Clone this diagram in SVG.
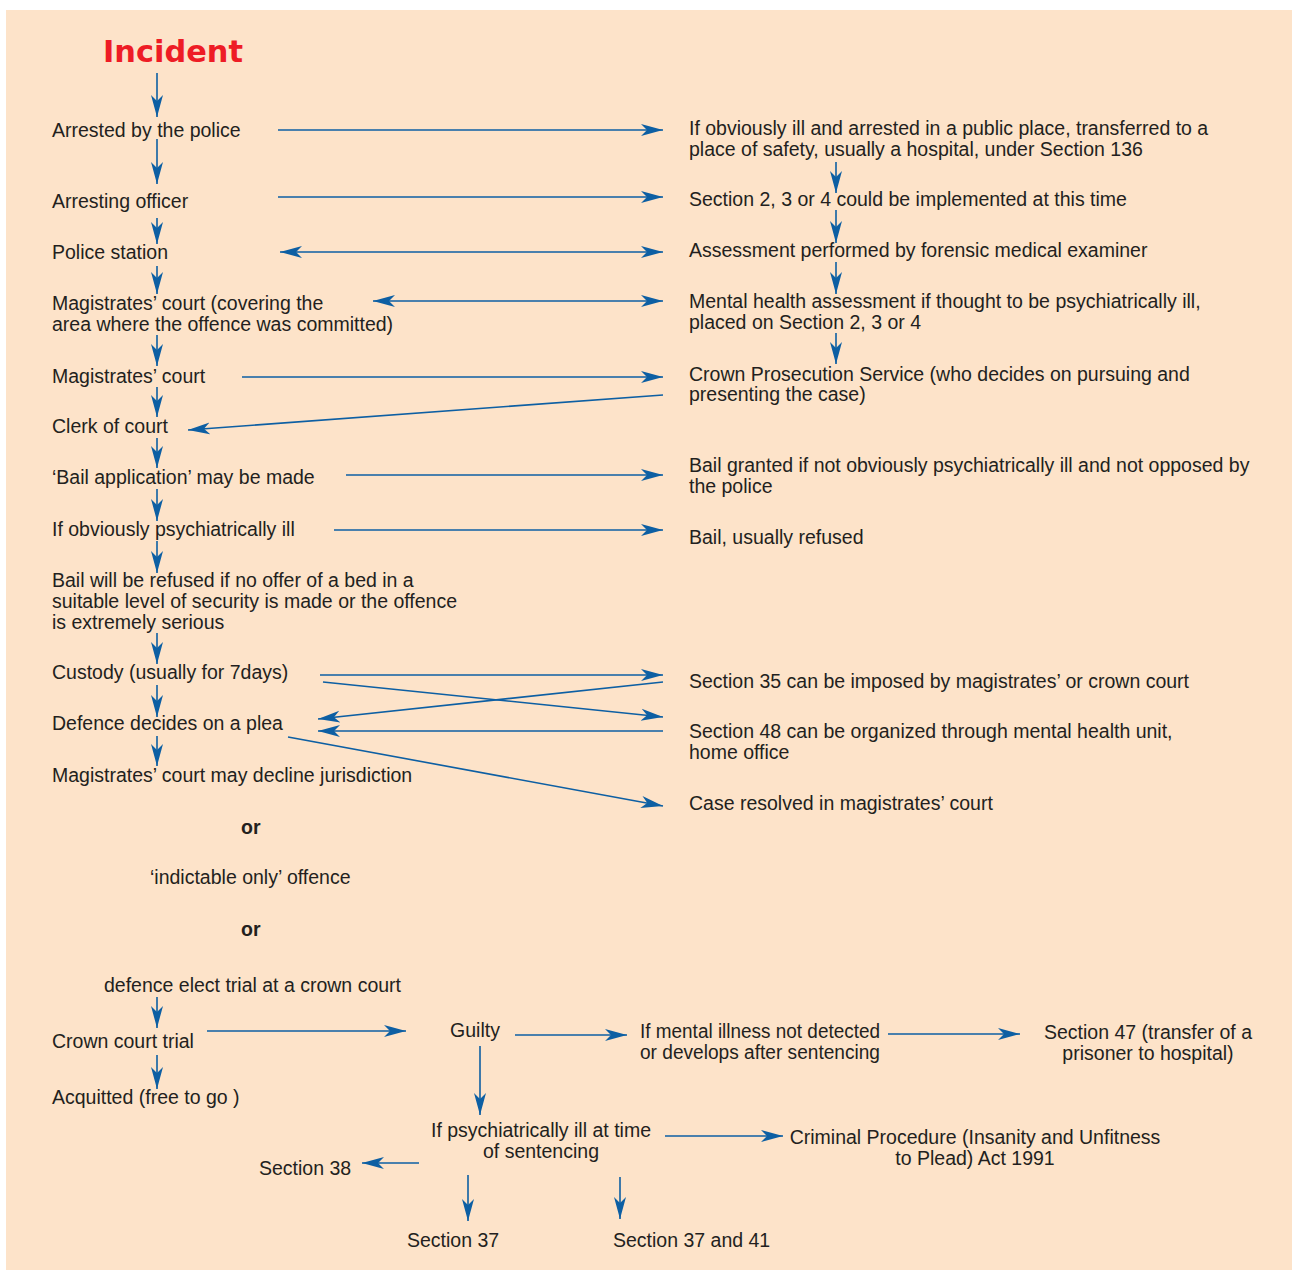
<svg xmlns="http://www.w3.org/2000/svg" width="1292" height="1270" viewBox="0 0 1292 1270">
<style>
.t{font-family:"Liberation Sans",Arial,sans-serif;font-size:19.5px;fill:#231F20}
.b{font-weight:bold}
.c{text-anchor:middle}
.ln{stroke:#0D5FA3;stroke-width:1.6;fill:none}
.a{marker-end:url(#ah)}
.d{marker-start:url(#ah);marker-end:url(#ah)}
</style>
<defs>
<marker id="ah" markerUnits="userSpaceOnUse" markerWidth="24" markerHeight="14" refX="22" refY="7" orient="auto-start-reverse" viewBox="0 0 24 14">
<path d="M0,1 L22,7 L0,13 L6,7 Z" fill="#0D5FA3"/>
</marker>
</defs>
<rect x="6" y="10" width="1286" height="1260" fill="#FDE3C9"/>
<g id="connectors">
<line class="ln a" x1="157" y1="73" x2="157" y2="117"/>
<line class="ln a" x1="157" y1="139" x2="157" y2="184"/>
<line class="ln a" x1="157" y1="218" x2="157" y2="244"/>
<line class="ln a" x1="157" y1="266" x2="157" y2="294"/>
<line class="ln a" x1="157" y1="335" x2="157" y2="366"/>
<line class="ln a" x1="157" y1="387" x2="157" y2="417"/>
<line class="ln a" x1="157" y1="438" x2="157" y2="468"/>
<line class="ln a" x1="157" y1="489" x2="157" y2="521"/>
<line class="ln a" x1="157" y1="541" x2="157" y2="573"/>
<line class="ln a" x1="157" y1="633" x2="157" y2="664"/>
<line class="ln a" x1="157" y1="685" x2="157" y2="717"/>
<line class="ln a" x1="157" y1="736" x2="157" y2="766"/>
<line class="ln a" x1="836" y1="162" x2="836" y2="193"/>
<line class="ln a" x1="836" y1="210" x2="836" y2="243"/>
<line class="ln a" x1="836" y1="262" x2="836" y2="294"/>
<line class="ln a" x1="836" y1="333" x2="836" y2="364"/>
<line class="ln a" x1="278" y1="130" x2="663" y2="130"/>
<line class="ln a" x1="278" y1="197" x2="663" y2="197"/>
<line class="ln d" x1="280" y1="252" x2="663" y2="252"/>
<line class="ln d" x1="373" y1="301" x2="663" y2="301"/>
<line class="ln a" x1="242" y1="377" x2="663" y2="377"/>
<line class="ln a" x1="663" y1="395" x2="188" y2="430"/>
<line class="ln a" x1="346" y1="475" x2="663" y2="475"/>
<line class="ln a" x1="334" y1="530" x2="663" y2="530"/>
<line class="ln a" x1="320" y1="675" x2="663" y2="675"/>
<line class="ln a" x1="323" y1="682" x2="663" y2="717"/>
<line class="ln a" x1="663" y1="682" x2="318" y2="719"/>
<line class="ln a" x1="663" y1="731" x2="318" y2="731"/>
<line class="ln a" x1="288" y1="737" x2="663" y2="806"/>
<line class="ln a" x1="157" y1="997" x2="157" y2="1028"/>
<line class="ln a" x1="157" y1="1055" x2="157" y2="1089"/>
<line class="ln a" x1="207" y1="1031" x2="406" y2="1031"/>
<line class="ln a" x1="515" y1="1035" x2="627" y2="1035"/>
<line class="ln a" x1="888" y1="1034" x2="1020" y2="1034"/>
<line class="ln a" x1="480" y1="1046" x2="480" y2="1115"/>
<line class="ln a" x1="665" y1="1136" x2="783" y2="1136"/>
<line class="ln a" x1="419" y1="1163" x2="362" y2="1163"/>
<line class="ln a" x1="468" y1="1175" x2="468" y2="1221"/>
<line class="ln a" x1="620" y1="1177" x2="620" y2="1219"/>
</g>
<g id="incident"><text x="103" y="62" textLength="140" lengthAdjust="spacingAndGlyphs" style="font-family:'DejaVu Sans',sans-serif;font-size:30px;font-weight:bold;fill:#EE1C25">Incident</text></g>
<g id="arrested"><text class="t" x="52" y="137">Arrested by the police</text></g>
<g id="arresting-officer"><text class="t" x="52" y="208">Arresting officer</text></g>
<g id="police-station"><text class="t" x="52" y="259">Police station</text></g>
<g id="magistrates-area"><text class="t" x="52" y="310">Magistrates’ court (covering the<tspan x="52" y="331">area where the offence was committed)</tspan></text></g>
<g id="magistrates-court"><text class="t" x="52" y="383">Magistrates’ court</text></g>
<g id="clerk"><text class="t" x="52" y="433">Clerk of court</text></g>
<g id="bail-application"><text class="t" x="52" y="484">‘Bail application’ may be made</text></g>
<g id="obviously-ill"><text class="t" x="52" y="536">If obviously psychiatrically ill</text></g>
<g id="bail-refused"><text class="t" x="52" y="587">Bail will be refused if no offer of a bed in a<tspan x="52" y="608">suitable level of security is made or the offence</tspan><tspan x="52" y="629">is extremely serious</tspan></text></g>
<g id="custody"><text class="t" x="52" y="679">Custody (usually for 7days)</text></g>
<g id="defence-plea"><text class="t" x="52" y="730">Defence decides on a plea</text></g>
<g id="decline"><text class="t" x="52" y="782">Magistrates’ court may decline jurisdiction</text></g>
<g id="or1"><text class="t b" x="241" y="834">or</text></g>
<g id="indictable"><text class="t" x="150" y="884">‘indictable only’ offence</text></g>
<g id="or2"><text class="t b" x="241" y="936">or</text></g>
<g id="defence-elect"><text class="t" x="104" y="992">defence elect trial at a crown court</text></g>
<g id="crown-court"><text class="t" x="52" y="1048">Crown court trial</text></g>
<g id="acquitted"><text class="t" x="52" y="1104">Acquitted (free to go )</text></g>
<g id="section136"><text class="t" x="689" y="135">If obviously ill and arrested in a public place, transferred to a<tspan x="689" y="156">place of safety, usually a hospital, under Section 136</tspan></text></g>
<g id="section234"><text class="t" x="689" y="206">Section 2, 3 or 4 could be implemented at this time</text></g>
<g id="assessment"><text class="t" x="689" y="257">Assessment performed by forensic medical examiner</text></g>
<g id="mh-assessment"><text class="t" x="689" y="308">Mental health assessment if thought to be psychiatrically ill,<tspan x="689" y="329">placed on Section 2, 3 or 4</tspan></text></g>
<g id="cps"><text class="t" x="689" y="381">Crown Prosecution Service (who decides on pursuing and<tspan x="689" y="401">presenting the case)</tspan></text></g>
<g id="bail-granted"><text class="t" x="689" y="472">Bail granted if not obviously psychiatrically ill and not opposed by<tspan x="689" y="493">the police</tspan></text></g>
<g id="bail-usually-refused"><text class="t" x="689" y="544">Bail, usually refused</text></g>
<g id="section35"><text class="t" x="689" y="688">Section 35 can be imposed by magistrates’ or crown court</text></g>
<g id="section48"><text class="t" x="689" y="738">Section 48 can be organized through mental health unit,<tspan x="689" y="759">home office</tspan></text></g>
<g id="case-resolved"><text class="t" x="689" y="810">Case resolved in magistrates’ court</text></g>
<g id="guilty"><text class="t c" x="475" y="1037">Guilty</text></g>
<g id="mental-not-detected"><text class="t" x="640" y="1038" textLength="240" lengthAdjust="spacingAndGlyphs">If mental illness not detected</text><text class="t" x="640" y="1059" textLength="240" lengthAdjust="spacingAndGlyphs">or develops after sentencing</text></g>
<g id="section47"><text class="t c" x="1148" y="1039">Section 47 (transfer of a<tspan x="1148" y="1060">prisoner to hospital)</tspan></text></g>
<g id="ill-at-sentencing"><text class="t c" x="541" y="1137">If psychiatrically ill at time<tspan x="541" y="1158">of sentencing</tspan></text></g>
<g id="criminal-procedure"><text class="t c" x="975" y="1144">Criminal Procedure (Insanity and Unfitness<tspan x="975" y="1165">to Plead) Act 1991</tspan></text></g>
<g id="section38"><text class="t" x="259" y="1175">Section 38</text></g>
<g id="section37"><text class="t" x="407" y="1247">Section 37</text></g>
<g id="section37-41"><text class="t" x="613" y="1247">Section 37 and 41</text></g>
</svg>
